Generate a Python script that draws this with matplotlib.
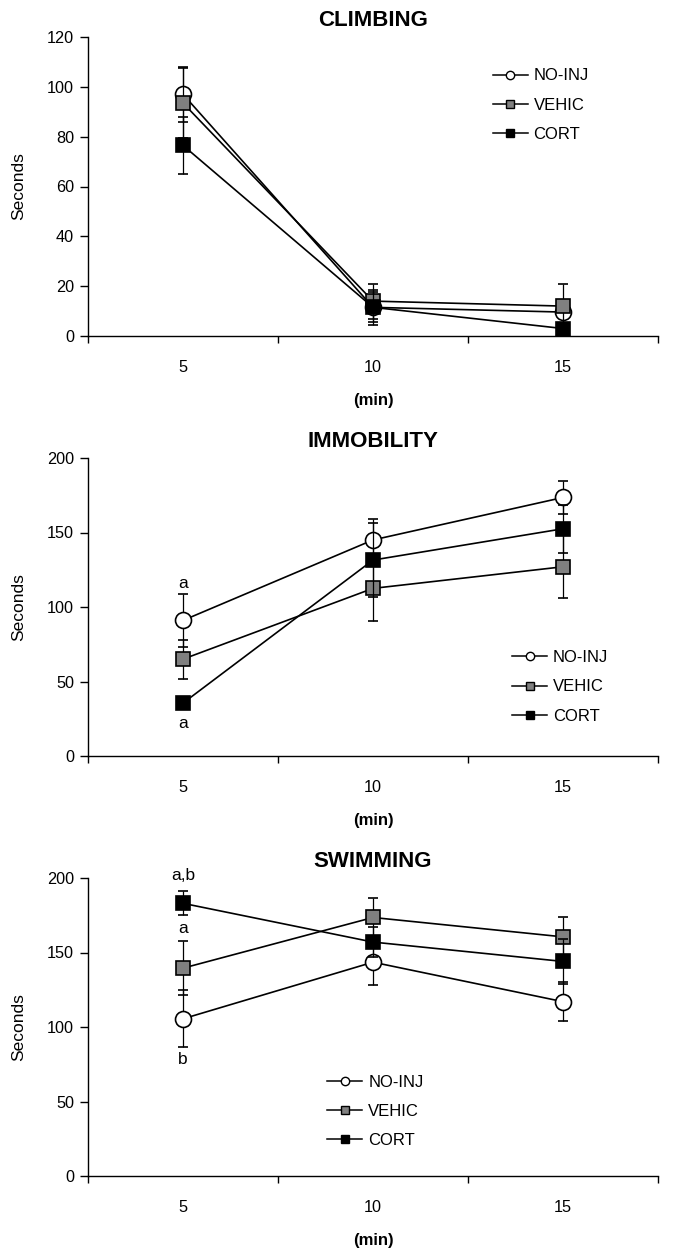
import matplotlib
matplotlib.use('Agg')
import matplotlib.pyplot as plt
from matplotlib.ticker import FixedLocator
from matplotlib.lines import Line2D

plt.rcParams['font.family'] = ['Liberation Sans', 'DejaVu Sans']

minutes = ['5', '10', '15']
groups = ['NO-INJ', 'VEHIC', 'CORT']

climb_noinj = [97, 11.5, 9.6]
climb_noinj_err = [11, 7, 5]
climb_vehic = [93.5, 14, 12]
climb_vehic_err = [14, 7, 9]
climb_cort = [76.5, 11.5, 3]
climb_cort_err = [11.5, 6, 2]

immob_noinj = [91, 145, 173.5]
immob_noinj_err = [18, 14, 11]
immob_vehic = [65, 112.5, 127]
immob_vehic_err = [13, 22, 21]
immob_cort = [35.5, 131.5, 152.5]
immob_cort_err = [3, 25, 16]

swim_noinj = [105.5, 143.5, 117]
swim_noinj_err = [19, 15, 13]
swim_vehic = [139.5, 173.5, 160.5]
swim_vehic_err = [18, 13, 13]
swim_cort = [183, 157, 144]
swim_cort_err = [8, 10, 15]

styles = [dict(marker='o', mfc='white'),
          dict(marker='s', mfc='#808080'),
          dict(marker='s', mfc='black')]
plot_ms = [11.5, 10.5, 10.5]

fig = plt.figure(figsize=(6.85, 12.59), dpi=100)
W, H = 685, 1259


def make_ax(top, bottom):
    return fig.add_axes([88 / W, 1 - bottom / H, 570 / W, (bottom - top) / H])


def panel(ax, title, series, errs, ymax, ystep, leg_anchor, notes):
    x = [1, 2, 3]
    handles = []
    for i, (vals, err) in enumerate(zip(series, errs)):
        ax.errorbar(x, vals, yerr=err, color='black', lw=1.2, mec='black',
                    mew=1.2, capsize=3.5, elinewidth=0.9, capthick=0.9,
                    ms=plot_ms[i], zorder=3 + i, **styles[i])
        handles.append(Line2D([], [], color='black', lw=1.1, mec='black',
                              mew=1.0, ms=6, label=groups[i], **styles[i]))
    ax.set_xlim(0.5, 3.5)
    ax.set_ylim(0, ymax)
    ax.set_yticks(range(0, ymax + 1, ystep))
    ax.set_xticks(x)
    ax.set_xticklabels(minutes)
    ax.xaxis.set_minor_locator(FixedLocator([0.5, 1.5, 2.5, 3.5]))
    ax.tick_params(axis='x', which='major', length=0, pad=17, labelsize=11.7)
    ax.tick_params(axis='x', which='minor', length=5, width=1)
    ax.tick_params(axis='y', length=6, width=1, labelsize=11.7, pad=4)
    for s in ['top', 'right']:
        ax.spines[s].set_visible(False)
    for s in ['left', 'bottom']:
        ax.spines[s].set_linewidth(1)
    ax.set_title(title, fontsize=16, fontweight='bold', pad=8)
    ax.set_ylabel('Seconds', fontsize=12.5, labelpad=15)
    ax.set_xlabel('(min)', fontsize=12, fontweight='bold', labelpad=13)
    ax.legend(handles=handles, loc='upper left', bbox_to_anchor=leg_anchor,
              frameon=False, fontsize=12, handlelength=2.1,
              handletextpad=0.35, labelspacing=0.85, borderpad=0,
              borderaxespad=0)
    for (xv, yv, t) in notes:
        ax.text(xv, yv, t, ha='center', va='center', fontsize=12.5)


ax1 = make_ax(37, 336)
panel(ax1, 'CLIMBING', [climb_noinj, climb_vehic, climb_cort],
      [climb_noinj_err, climb_vehic_err, climb_cort_err], 120, 20,
      (0.71, 0.895), [])

ax2 = make_ax(458, 756)
panel(ax2, 'IMMOBILITY', [immob_noinj, immob_vehic, immob_cort],
      [immob_noinj_err, immob_vehic_err, immob_cort_err], 200, 50,
      (0.744, 0.355), [(1, 116, 'a'), (1, 22, 'a')])

ax3 = make_ax(878, 1176)
panel(ax3, 'SWIMMING', [swim_noinj, swim_vehic, swim_cort],
      [swim_noinj_err, swim_vehic_err, swim_cort_err], 200, 50,
      (0.42, 0.34), [(1, 202, 'a,b'), (1, 166, 'a'), (1, 78.5, 'b')])

fig.savefig('out.png', dpi=100)
